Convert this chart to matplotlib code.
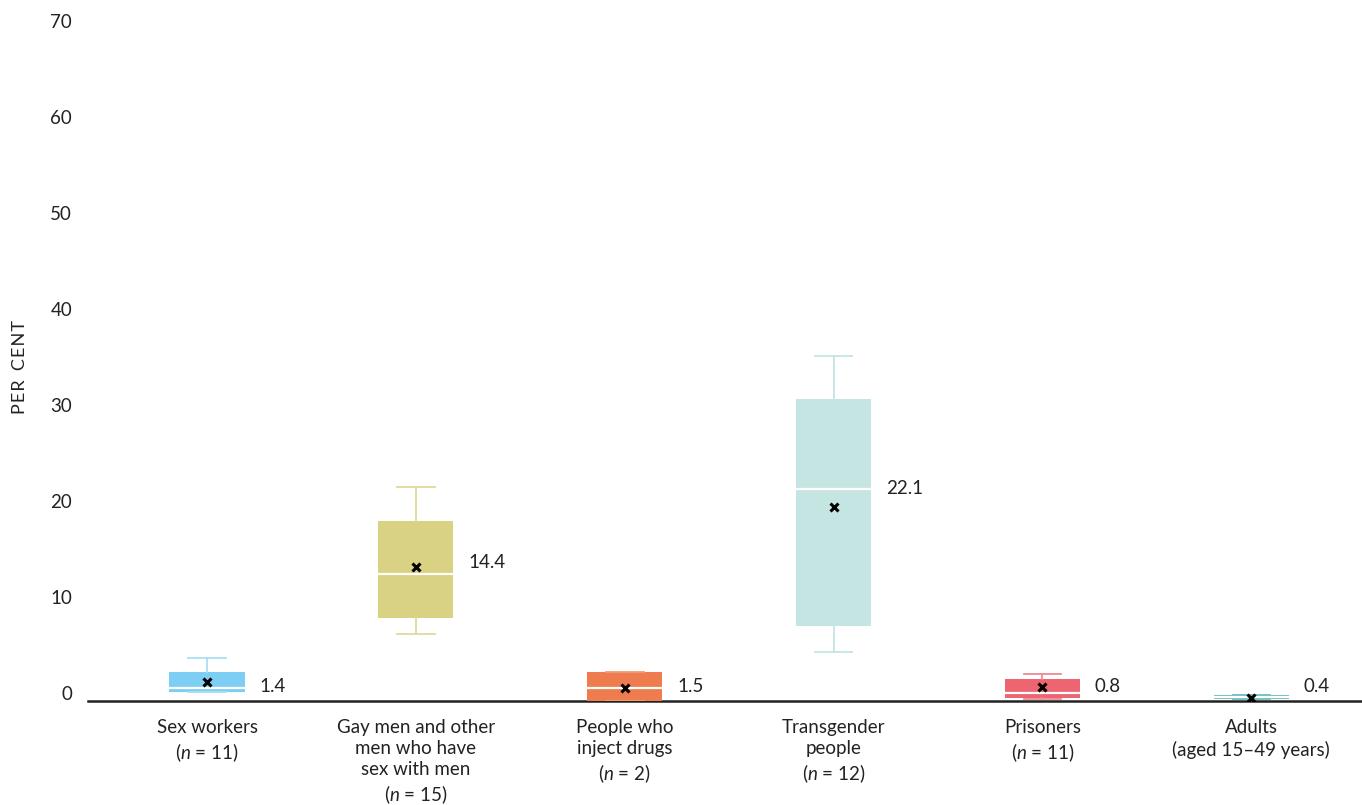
import matplotlib
matplotlib.use("Agg")
from matplotlib import pyplot as plt
from matplotlib import transforms

plt.rcParams["font.family"] = ["Lato", "DejaVu Sans"]
plt.rcParams["mathtext.fontset"] = "custom"
plt.rcParams["mathtext.it"] = "Lato:italic"
plt.rcParams["mathtext.rm"] = "Lato"

# 人群分类
groups = ["Sex workers\n($n$ = 11)",
          "Gay men and other\nmen who have\nsex with men\n($n$ = 15)",
          "People who\ninject drugs\n($n$ = 2)",
          "Transgender\npeople\n($n$ = 12)",
          "Prisoners\n($n$ = 11)",
          "Adults\n(aged 15\u201349 years)"]

# 箱线图统计值
whislo = [0.9, 7.0, 0.0, 5.1, 0.2, 0.2]
q1 = [0.9, 8.6, 0.0, 7.8, 0.3, 0.2]
med = [1.35, 13.2, 1.35, 22.1, 0.8, 0.4]
q3 = [3.0, 18.7, 3.0, 31.5, 2.3, 0.6]
whishi = [4.5, 22.3, 3.0, 35.9, 2.8, 0.6]
means = [2.0, 14.0, 1.35, 20.2, 1.5, 0.3]
labels = ["1.4", "14.4", "1.5", "22.1", "0.8", "0.4"]
label_y = [1.4, 14.4, 1.5, 22.1, 0.8, 0.4]

colors = ["#7ecef4", "#d9d282", "#ef7c4f", "#c5e5e3", "#ec6570", "#6cbcbc"]
whisker_colors = ["#a9def7", "#e0d99a", "#f29b78", "#c5e5e3", "#ef8a93", "#6cbcbc"]

fig = plt.figure(figsize=(13.62, 8.05), dpi=100)
ax = fig.add_axes([88 / 1362, 1 - 701 / 805, 1 - 88 / 1362, (701 - 29) / 805])

stats = []
for i in range(len(groups)):
    stats.append({"whislo": whislo[i], "q1": q1[i], "med": med[i], "q3": q3[i],
                  "whishi": whishi[i], "mean": means[i], "fliers": []})

pos = list(range(len(groups)))
bp = ax.bxp(stats, positions=pos, widths=0.36, patch_artist=True, showmeans=True,
            capwidths=0.18,
            meanprops=dict(marker="x", markeredgecolor="black", markersize=6, markeredgewidth=2.2),
            medianprops=dict(color="white", linewidth=1.6),
            boxprops=dict(linewidth=0))

for i in range(len(groups)):
    bp["boxes"][i].set_facecolor(colors[i])
    bp["boxes"][i].set_clip_on(False)
    for w in bp["whiskers"][2 * i:2 * i + 2] + bp["caps"][2 * i:2 * i + 2]:
        w.set_color(whisker_colors[i])
        w.set_linewidth(1.3)
    bp["means"][i].set_zorder(5)
    # 小数值的标签抬高一点, 避免压到坐标轴
    ax.text(pos[i] + 0.25, max(label_y[i], 1.5), labels[i], fontsize=13.5, va="center", ha="left",
            color="#222222")

ax.set_xlim(-0.57, 5.53)
ax.set_ylim(0, 70)
ax.set_yticks(range(0, 71, 10))
ax.set_xticks(pos)
ax.set_xticklabels(groups, fontsize=13.5, color="#222222", linespacing=1.3)
ax.tick_params(axis="x", length=0, pad=13)
ax.tick_params(axis="y", length=0, pad=11.5, labelsize=13.5, labelcolor="#222222")
offset = transforms.ScaledTranslation(0, 8 / 100, fig.dpi_scale_trans)
for lab in ax.get_yticklabels():
    lab.set_transform(lab.get_transform() + offset)

for s in ["top", "right", "left"]:
    ax.spines[s].set_visible(False)
ax.spines["bottom"].set_linewidth(1.8)
ax.spines["bottom"].set_color("#222222")
ax.spines["bottom"].set_zorder(1)

fig.text(20 / 1362, 1 - 367 / 805, "P\u200aE\u200aR  C\u200aE\u200aN\u200aT",
         rotation=90, va="center", ha="center", fontsize=13, color="#222222")

fig.savefig("out.png", dpi=100)
